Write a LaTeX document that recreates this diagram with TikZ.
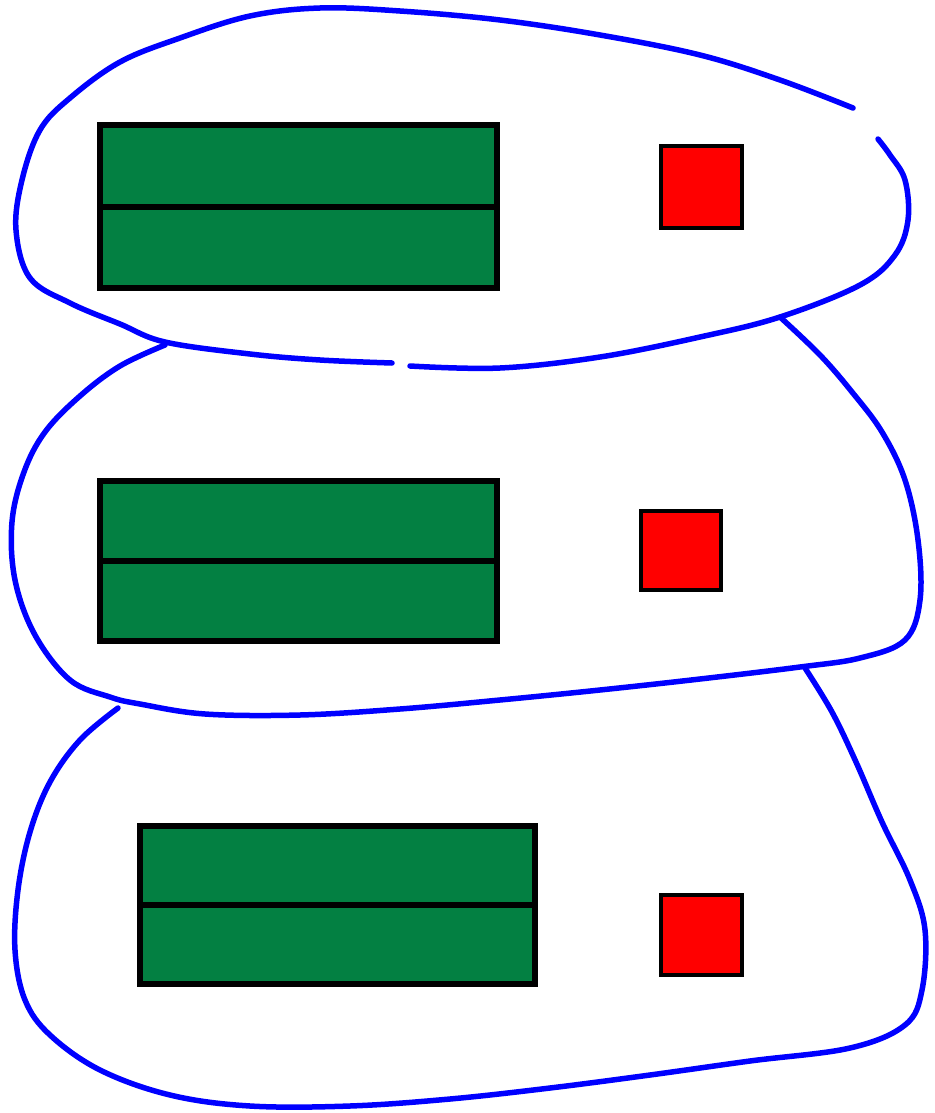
\documentclass[tikz,border=0pt]{standalone}
\definecolor{srvgreen}{RGB}{3,128,66}
\definecolor{blobblue}{RGB}{0,0,255}
\tikzset{
  blob/.style={draw=blobblue, line width=5.5pt, line cap=round, line join=round},
  greenbox/.style={draw=black, fill=srvgreen, line width=6pt, rectangle, inner sep=0pt, outer sep=0pt},
  redsq/.style={draw=black, fill=red, line width=4.5pt, rectangle, inner sep=0pt, outer sep=0pt},
}
\begin{document}
\begin{tikzpicture}[x=1pt,y=-1pt]
\useasboundingbox (0,0) rectangle (934,1113);
% top blob
\draw[blob] plot[smooth, tension=0.6] coordinates {(853,108) (780,80) (700,55) (600,35) (500,20) (400,11) (320,8) (250,16) (180,38) (120,62) (70,98) (40,130) (22,180) (16,230) (30,278) (70,303) (120,324) (165,342) (250,354) (320,360) (392,363)};
\draw[blob] plot[smooth, tension=0.6] coordinates {(410,366) (500,368) (600,357) (700,337) (780,317) (860,285) (895,255) (908,220) (905,180) (890,155) (878,139)};
% middle blob
\draw[blob] plot[smooth, tension=0.6] coordinates {(165,345) (120,366) (80,396) (45,432) (24,472) (12,522) (15,580) (35,635) (70,680) (110,697) (140,704) (205,714) (300,715) (400,709) (500,700) (600,690) (700,679) (800,667) (860,658) (905,640) (920,600) (918,540) (905,480) (882,432) (852,392) (820,355) (780,317)};
% bottom blob
\draw[blob] plot[smooth, tension=0.6] coordinates {(118,708) (80,740) (50,782) (30,832) (18,890) (15,950) (25,1000) (50,1035) (100,1070) (170,1095) (250,1106) (350,1106) (450,1099) (550,1088) (650,1075) (750,1061) (850,1048) (905,1025) (922,990) (925,930) (910,880) (882,822) (856,762) (832,712) (805,668)};
% server units
\node[greenbox, minimum width=397pt, minimum height=163pt] (g1) at (298.5,206.5) {};
\draw[line width=6pt] (g1.west) -- (g1.east);
\node[greenbox, minimum width=397pt, minimum height=160pt] (g2) at (298.5,561) {};
\draw[line width=6pt] (g2.west) -- (g2.east);
\node[greenbox, minimum width=395pt, minimum height=158pt] (g3) at (337.5,905) {};
\draw[line width=6pt] (g3.west) -- (g3.east);
\node[redsq, minimum width=81pt, minimum height=82pt] (r1) at (701.5,187) {};
\node[redsq, minimum width=80pt, minimum height=79pt] (r2) at (681,550.5) {};
\node[redsq, minimum width=81pt, minimum height=80pt] (r3) at (701.5,935) {};
\end{tikzpicture}
\end{document}
